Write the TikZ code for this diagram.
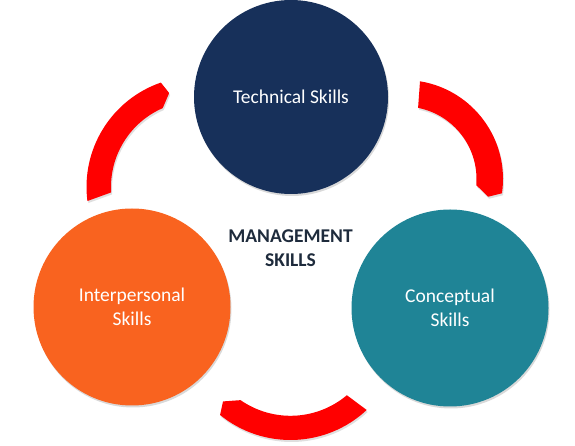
\documentclass[tikz,border=0pt]{standalone}
\usepackage{fontspec}
\setmainfont{Carlito}
\usetikzlibrary{calc,shadows}
\definecolor{techblue}{HTML}{17305A}
\definecolor{interorange}{HTML}{F9631F}
\definecolor{concteal}{HTML}{1F8496}
\definecolor{titledark}{HTML}{1E2B3C}

\begin{document}
\begin{tikzpicture}[
x=1pt,y=1pt,
skill/.style={circle,inner sep=0pt,minimum size=197pt,text=white,align=center,
	font=\fontsize{19.5}{24}\selectfont,
	drop shadow={opacity=0.3,shadow xshift=1pt,shadow yshift=-2pt}},
band/.style={fill=red,drop shadow={opacity=0.25,shadow xshift=1pt,shadow yshift=-2pt}},
]
	\useasboundingbox (0,0) rectangle (575,446);
	\coordinate (leftarc) at (197,259);
	\coordinate (rightarc) at (404,267);
	\coordinate (bottomarc) at (290.5,117.7);
	% ring pieces
	\fill[band] ($(leftarc)+(187.3:110.5pt)$) arc[start angle=187.3,end angle=109.1,radius=110.5pt]
		-- ($(leftarc)+(106.5:98pt)$) -- ($(leftarc)+(113.5:86pt)$)
		arc[start angle=113.5,end angle=183.6,radius=86pt] -- cycle;
	\fill[band] ($(rightarc)+(80.7:99pt)$) arc[start angle=80.7,end angle=-8.3,radius=99pt]
		-- ($(rightarc)+(-11.9:86pt)$) -- ($(rightarc)+(-4.8:72.5pt)$)
		arc[start angle=-4.8,end angle=78.8,radius=72.5pt] -- cycle;
	\fill[band] ($(bottomarc)+(313:111.7pt)$) arc[start angle=313,end angle=230.9,radius=111.7pt]
		-- ($(bottomarc)+(227.3:99.5pt)$) -- ($(bottomarc)+(235.2:87.5pt)$)
		arc[start angle=235.2,end angle=310.1,radius=87.5pt] -- cycle;
	% skills
	\node[skill,fill=techblue,minimum size=194pt] (technical) at (291,349) {Technical Skills};
	\node[skill,fill=interorange] (interpersonal) at (132,139) {Interpersonal\\Skills};
	\node[skill,fill=concteal] (conceptual) at (450,138) {Conceptual\\Skills};
	\node[text=titledark,align=center,font=\bfseries\fontsize{19.5}{24}\selectfont] (management) at (290.5,198) {MANAGEMENT\\SKILLS};
\end{tikzpicture}
\end{document}
